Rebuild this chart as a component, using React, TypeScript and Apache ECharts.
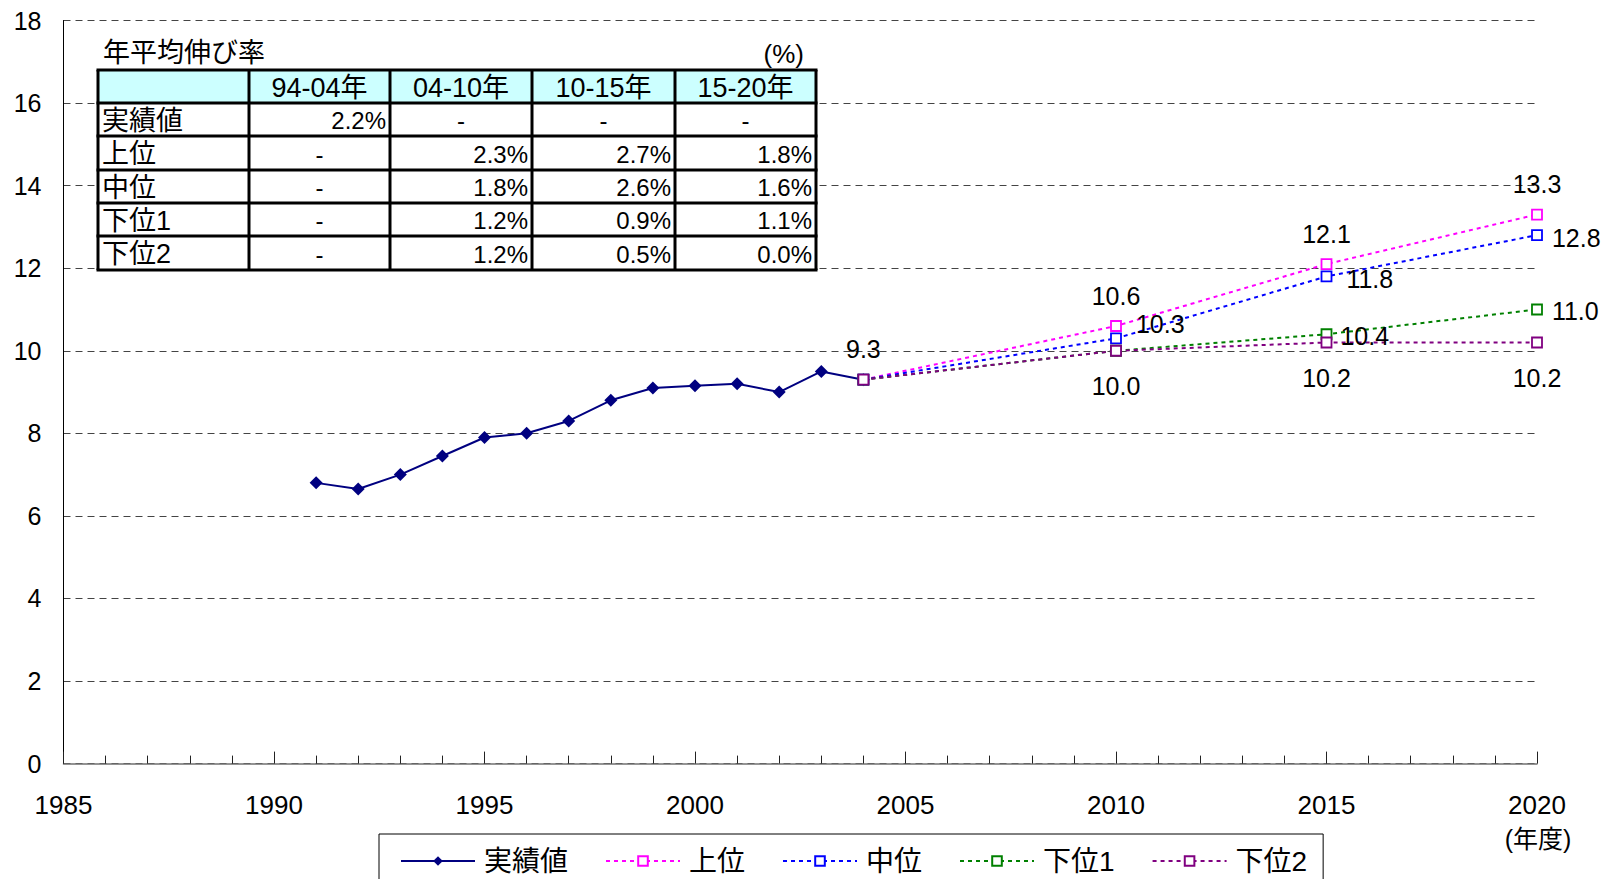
import React, { useEffect, useRef } from "react";
import * as echarts from "echarts";

const actualYears = [1991, 1992, 1993, 1994, 1995, 1996, 1997, 1998, 1999, 2000, 2001, 2002, 2003, 2004];
const actualValues = [6.8, 6.65, 7.0, 7.45, 7.9, 8.0, 8.3, 8.8, 9.1, 9.15, 9.2, 9.0, 9.5, 9.3];

const projYears = [2004, 2010, 2015, 2020];
const upperValues = [9.3, 10.6, 12.1, 13.3];
const middleValues = [9.3, 10.3, 11.8, 12.8];
const lower1Values = [9.3, 10.0, 10.4, 11.0];
const lower2Values = [9.3, 10.0, 10.2, 10.2];

const seriesNames = ["実績値", "上位", "中位", "下位1", "下位2"];

const tableTitle = "年平均伸び率";
const tableUnit = "(%)";
const tableHeaders = ["", "94-04年", "04-10年", "10-15年", "15-20年"];
const tableRows = [
  ["実績値", "2.2%", "-", "-", "-"],
  ["上位", "-", "2.3%", "2.7%", "1.8%"],
  ["中位", "-", "1.8%", "2.6%", "1.6%"],
  ["下位1", "-", "1.2%", "0.9%", "1.1%"],
  ["下位2", "-", "1.2%", "0.5%", "0.0%"],
];

const xAxisUnit = "(年度)";

const NUM_FONT = "'Liberation Sans', Arial, 'Noto Sans CJK JP', sans-serif";
const JP_FONT = "'Liberation Sans', 'Noto Sans CJK JP', sans-serif";

function buildTable(): any[] {
  const colX = [98, 249, 390, 532, 675, 816];
  const rowY = [70, 103, 136, 170, 203, 236, 270];
  const els: any[] = [];
  els.push({
    type: "rect",
    shape: { x: colX[0], y: rowY[0], width: colX[5] - colX[0], height: rowY[6] - rowY[0] },
    style: { fill: "#ffffff" },
    z: 10,
  });
  els.push({
    type: "rect",
    shape: { x: colX[0], y: rowY[0], width: colX[5] - colX[0], height: rowY[1] - rowY[0] },
    style: { fill: "#ccffff" },
    z: 10,
  });
  els.push({
    type: "text",
    x: 103,
    y: 53,
    style: { text: tableTitle, fontSize: 27, fontFamily: JP_FONT, fill: "#000", verticalAlign: "middle", align: "left" },
    z: 12,
  });
  els.push({
    type: "text",
    x: 804,
    y: 54,
    style: { text: tableUnit, fontSize: 26, fontFamily: JP_FONT, fill: "#000", verticalAlign: "middle", align: "right" },
    z: 12,
  });
  tableHeaders.forEach((h, i) => {
    if (!h) return;
    els.push({
      type: "text",
      x: (colX[i] + colX[i + 1]) / 2,
      y: (rowY[0] + rowY[1]) / 2 + 1,
      style: { text: h, fontSize: 27, fontFamily: JP_FONT, fill: "#000", align: "center", verticalAlign: "middle" },
      z: 12,
    });
  });
  tableRows.forEach((row, r) => {
    const cy = (rowY[r + 1] + rowY[r + 2]) / 2 + 1;
    row.forEach((cell, c) => {
      let x = 0;
      let align = "left";
      if (c === 0) {
        x = colX[0] + 4;
        align = "left";
      } else if (cell === "-") {
        x = (colX[c] + colX[c + 1]) / 2;
        align = "center";
      } else {
        x = colX[c + 1] - 4;
        align = "right";
      }
      els.push({
        type: "text",
        x,
        y: cy,
        style: {
          text: cell,
          fontSize: c === 0 ? 27 : 24,
          fontFamily: c === 0 ? JP_FONT : NUM_FONT,
          fill: "#000",
          align,
          verticalAlign: "middle",
        },
        z: 12,
      });
    });
  });
  rowY.forEach((y) => {
    els.push({
      type: "line",
      shape: { x1: colX[0] - 1.5, y1: y, x2: colX[5] + 1.5, y2: y },
      style: { stroke: "#000", lineWidth: 3 },
      z: 13,
    });
  });
  colX.forEach((x) => {
    els.push({
      type: "line",
      shape: { x1: x, y1: rowY[0], x2: x, y2: rowY[6] },
      style: { stroke: "#000", lineWidth: 3 },
      z: 13,
    });
  });
  return els;
}

export default function App() {
  const ref = useRef<HTMLDivElement>(null);
  useEffect(() => {
    if (!ref.current) return;
    const chart = echarts.init(ref.current, undefined, { renderer: "svg" });

    const fmt = (p: any) => Number(p.value[1]).toFixed(1);
    const projStyle = (color: string) => ({
      type: "line",
      symbol: "rect",
      symbolSize: 10,
      itemStyle: { color: "#ffffff", borderColor: color, borderWidth: 1.8 },
      lineStyle: { color, width: 2, type: [4, 4] },
      emphasis: { disabled: true },
    });

    const mk = (vals: number[], labelFor: (i: number) => any) =>
      projYears.map((y, i) => ({ value: [y, vals[i]], label: labelFor(i) }));

    const labelBase = {
      show: true,
      fontSize: 25,
      fontFamily: NUM_FONT,
      color: "#000",
      formatter: fmt,
    };

    const option: any = {
      animation: false,
      backgroundColor: "#ffffff",
      grid: { left: 63.5, right: 68, top: 20.5, bottom: 115.4, containLabel: false },
      xAxis: {
        type: "value",
        min: 1985,
        max: 2020,
        interval: 5,
        axisLine: { show: true, lineStyle: { color: "#707070", width: 1.5 } },
        axisTick: { show: true, inside: true, length: 12, lineStyle: { color: "#222", width: 1 } },
        minorTick: { show: true, splitNumber: 5, length: 8, lineStyle: { color: "#222", width: 1 } },
        splitLine: { show: false },
        axisLabel: { fontSize: 26, fontFamily: NUM_FONT, color: "#000", margin: 28, formatter: (v: number) => String(v) },
      },
      yAxis: {
        type: "value",
        min: 0,
        max: 18,
        interval: 2,
        axisLine: { show: true, lineStyle: { color: "#000", width: 1 } },
        axisTick: { show: false },
        splitLine: { show: true, lineStyle: { color: "#444", width: 1, type: [7, 5] } },
        axisLabel: { fontSize: 25, fontFamily: NUM_FONT, color: "#000", margin: 22 },
      },
      legend: {
        left: 379,
        top: 834,
        orient: "horizontal",
        selectedMode: false,
        borderColor: "#000",
        borderWidth: 1,
        padding: [13, 16, 20, 21],
        itemWidth: 74,
        itemHeight: 12,
        itemGap: 37,
        textStyle: { fontSize: 28, fontFamily: JP_FONT, color: "#000", padding: [0, 0, 0, 4] },
        data: seriesNames,
      },
      graphic: [
        {
          type: "text",
          x: 1538,
          y: 839,
          style: { text: xAxisUnit, fontSize: 25, fontFamily: JP_FONT, fill: "#000", align: "center", verticalAlign: "middle" },
        },
        ...buildTable(),
      ],
      series: [
        {
          name: seriesNames[0],
          type: "line",
          symbol: "diamond",
          symbolSize: 13,
          itemStyle: { color: "#000080" },
          lineStyle: { color: "#000080", width: 2 },
          emphasis: { disabled: true },
          data: actualYears.map((y, i) => ({
            value: [y, actualValues[i]],
            label:
              i === actualYears.length - 1
                ? { ...labelBase, position: "top", distance: 12 }
                : { show: false },
          })),
        },
        {
          name: seriesNames[1],
          ...projStyle("#ff00ff"),
          data: mk(upperValues, (i) =>
            i === 0 ? { show: false } : { ...labelBase, position: "top", distance: 12 }
          ),
        },
        {
          name: seriesNames[2],
          ...projStyle("#0000ff"),
          data: mk(middleValues, (i) =>
            i === 0
              ? { show: false }
              : {
                  ...labelBase,
                  position: "right",
                  distance: i === 3 ? 9 : 14,
                  offset: i === 1 ? [0, -14] : [0, 3],
                }
          ),
        },
        {
          name: seriesNames[3],
          ...projStyle("#008000"),
          data: mk(lower1Values, (i) =>
            i <= 1 ? { show: false } : { ...labelBase, position: "right", distance: i === 2 ? 8 : 9, offset: [0, 2] }
          ),
        },
        {
          name: seriesNames[4],
          ...projStyle("#800080"),
          data: mk(lower2Values, (i) =>
            i === 0 ? { show: false } : { ...labelBase, position: "bottom", distance: 17 }
          ),
        },
      ],
    };

    chart.setOption(option);
    return () => chart.dispose();
  }, []);

  return (
    <div
      ref={ref}
      style={{ position: "fixed", left: 0, top: 0, width: 1605, height: 879, background: "#fff" }}
    />
  );
}
